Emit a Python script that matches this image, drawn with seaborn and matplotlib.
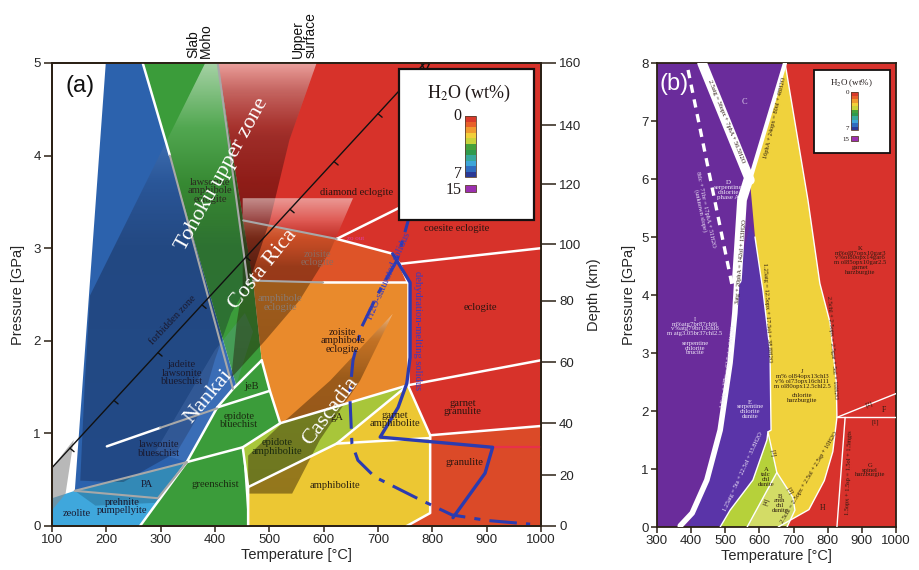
import numpy as np
import matplotlib
matplotlib.use("Agg")
import matplotlib.pyplot as plt
from matplotlib.patches import Polygon, Rectangle
import seaborn as sns

sns.set_theme(style="ticks")
plt.rcParams["font.family"] = ["Liberation Sans", "DejaVu Sans"]
plt.rcParams["mathtext.fontset"] = "stix"
SERIF = ["Liberation Serif", "DejaVu Serif"]

# ---------------- panel (a): metamorphic facies of subducting crust ----------------
zeolite_zone = [(100, 0), (262, 0), (348, 0.69), (142, 0.38), (100, 0.30)]
blueschist = [(142, 0.38), (199, 5), (267, 5), (439, 1.52), (404, 1.28), (348, 0.69)]
green_facies = [(267, 5), (405, 5), (470, 2.65), (486, 1.79), (501, 1.46), (520, 1.11),
                (451, 0.85), (461, 0), (262, 0), (348, 0.69), (404, 1.28), (439, 1.52)]
eclogite_field = [(405, 5), (1000, 5), (1000, 0), (753, 0), (796, 0.14), (796, 0.98),
                  (755, 1.52), (755, 2.63), (470, 2.65)]
zoisite_eclogite = [(452, 3.30), (624, 3.10), (727, 2.94), (740, 2.83), (755, 2.63), (470, 2.65)]
zo_amph_eclogite = [(520, 1.11), (501, 1.46), (486, 1.79), (470, 2.65), (755, 2.63), (755, 1.52)]
epidote_amphibolite = [(451, 0.85), (520, 1.11), (755, 1.52), (624, 0.89), (461, 0.42)]
amphibolite = [(461, 0), (461, 0.42), (624, 0.89), (755, 1.52), (796, 0.98), (796, 0.14), (753, 0)]
granulite = [(796, 0.98), (1000, 1.08), (1000, 0), (753, 0), (796, 0.14)]
gray_corner = [(100, 0.17), (100, 0.63), (140, 0.93), (125, 0.35)]
pa_zone = [(142, 0.38), (348, 0.69), (320, 0.45), (290, 0.25), (180, 0.22)]

facies_a = [
    (eclogite_field, "#d7322a"), (zeolite_zone, "#3fa7dc"), (blueschist, "#2c62ad"),
    (green_facies, "#3b9c3a"), (zoisite_eclogite, "#de5428"), (zo_amph_eclogite, "#e98a2c"),
    (epidote_amphibolite, "#a8c63a"), (amphibolite, "#ecc733"), (granulite, "#db4a28"),
]

white_lines_a = [
    [(262, 0), (348, 0.69), (404, 1.28), (433, 1.48), (486, 1.79)],
    [(267, 5), (317, 4.0)],
    [(348, 0.69), (451, 0.85), (520, 1.11), (755, 1.52)],
    [(451, 0.85), (461, 0.42), (461, 0)],
    [(404, 1.28), (501, 1.46)],
    [(486, 1.79), (501, 1.46), (520, 1.11)],
    [(461, 0.42), (624, 0.89), (755, 1.52)],
    [(624, 0.89), (796, 0.95)],
    [(755, 1.52), (796, 0.98), (796, 0.14), (753, 0)],
    [(755, 1.52), (1000, 1.79)],
    [(796, 0.98), (1000, 1.08)],
    [(740, 2.83), (1000, 3.0)],
    [(624, 3.10), (727, 2.94), (740, 2.83), (755, 2.63)],
    [(624, 3.10), (737, 3.43), (800, 3.62)],
    [(599, 2.63), (755, 2.63), (755, 1.52)],
    [(201, 0.86), (299, 1.06)],
]
gray_lines_a = [
    [(452, 3.30), (624, 3.10)],
    [(470, 2.65), (599, 2.63)],
    [(405, 5), (461, 2.6)],
    [(317, 4.0), (433, 1.48)],
    [(142, 0.38), (348, 0.69)],
    [(142, 0.38), (295, 0.30), (348, 0.69)],
    [(299, 1.06), (404, 1.27)],
]

# slab paths drawn as translucent bands (vertices, gradient stops in P)
tohoku_slab = [(382, 5), (587, 5), (537, 4.17), (501, 3.3), (461, 2.6), (430, 2.3), (400, 1.8),
               (370, 1.2), (330, 0.8), (230, 0.47), (152, 0.49), (160, 1.5), (170, 2.49)]
tohoku_stops = [(0, (0.05, 0.05, 0.15, 0.28)), (3.0, (0.05, 0.05, 0.12, 0.30)),
                (3.7, (0.1, 0.0, 0.0, 0.12)), (4.3, (1, 1, 1, 0.12)), (5, (1, 1, 1, 0.55))]
tohoku_surface = [(405, 5), (587, 5), (537, 4.17), (501, 3.3), (461, 2.6)]
tohoku_surface_stops = [(2.6, (0.2, 0.0, 0.0, 0.35)), (4.2, (0.2, 0.0, 0.0, 0.35)),
                        (4.7, (0.2, 0.0, 0.0, 0.18)), (5, (0.2, 0.0, 0.0, 0.0))]
costa_rica = [(451, 3.54), (654, 3.54), (612, 2.97), (556, 2.44), (492, 2.0), (430, 1.6),
              (440, 2.2), (451, 2.6)]
costa_stops = [(1.6, (0.12, 0.05, 0.0, 0.42)), (2.8, (0.12, 0.05, 0.0, 0.36)),
               (3.1, (0.3, 0.15, 0.1, 0.15)), (3.3, (1, 1, 1, 0.2)), (3.54, (1, 1, 1, 0.5))]
cascadia = [(727, 2.29), (667, 1.57), (593, 0.93), (542, 0.35), (461, 0.35), (461, 0.76),
            (520, 1.09), (612, 1.57)]
cascadia_stops = [(0.35, (0.15, 0.08, 0.0, 0.45)), (1.6, (0.15, 0.08, 0.0, 0.40)),
                  (2.0, (0.3, 0.15, 0.05, 0.25)), (2.29, (1, 1, 1, 0.45))]
nankai = [(348, 0.69), (404, 1.28), (439, 1.52), (470, 2.1), (455, 2.3), (400, 1.9),
          (330, 1.2), (290, 0.8)]

# forbidden-zone boundary and its tick positions
forbidden_T = [100, 786]
forbidden_P = [0.63, 5.0]
forbidden_ticks_T = [133, 214, 295, 376, 457, 538, 619, 700]

# solidi
wet_solidus_T = [799, 759, 735, 700, 670, 654, 648, 652, 663, 694, 772, 836, 900, 980]
wet_solidus_P = [3.98, 3.37, 2.87, 2.51, 2.15, 1.79, 1.43, 0.89, 0.71, 0.53, 0.30, 0.12, 0.06, 0.02]
dehydration_T = [727, 759, 759, 753, 737, 704, 911, 897, 838]
dehydration_P = [2.94, 2.63, 1.82, 1.54, 1.28, 0.96, 0.85, 0.57, 0.09]

# depth scale (km) and the pressure at which each depth sits
depth_km = [0, 20, 40, 60, 80, 100, 120, 140, 160]
depth_gpa = [0, 0.547, 1.11, 1.77, 2.43, 3.04, 3.69, 4.33, 5.0]

water_colors = ["#d93a2b", "#e8602a", "#f09a30", "#f2cf3a", "#c9d33a", "#45a03a",
                "#2f9a4c", "#37a79c", "#3ea5d8", "#2f6cbf", "#2b3a96"]
water_max_color = "#9b2fb0"

labels_a = [
    ("lawsonite\namphibole\neclogite", 391, 3.62, "#2a2a20"),
    ("diamond eclogite", 660, 3.60, "#2a1510"),
    ("coesite eclogite", 845, 3.21, "#2a1510"),
    ("zoisite\neclogite", 589, 2.89, "#8a6a60"),
    ("amphibole\neclogite", 520, 2.41, "#8a7a70"),
    ("zoisite\namphibole\neclogite", 635, 2.00, "#2a1510"),
    ("eclogite", 888, 2.36, "#2a1510"),
    ("jadeite\nlawsonite\nblueschist", 339, 1.65, "#1a1a30"),
    ("jeB", 468, 1.51, "#1a2a10"),
    ("epidote\nbluechist", 444, 1.14, "#1a2a10"),
    ("lawsonite\nblueschist", 297, 0.83, "#1a1a30"),
    ("epidote\namphibolite", 514, 0.85, "#1a2a10"),
    ("PA", 275, 0.45, "#1a1a30"),
    ("greenschist", 400, 0.45, "#1a2a10"),
    ("prehnite\npumpellyite", 229, 0.21, "#1a1a30"),
    ("zeolite", 146, 0.14, "#1a1a30"),
    ("amphibolite", 621, 0.44, "#2a2010"),
    ("garnet\namphibolite", 731, 1.15, "#2a2010"),
    ("garnet\ngranulite", 856, 1.28, "#2a1510"),
    ("granulite", 860, 0.69, "#2a1510"),
    ("gA", 624, 1.17, "#2a2010"),
]
slab_names = [
    ("Tohoku upper zone", 413, 3.80, 61),
    ("Costa Rica", 488, 2.77, 51),
    ("Nankai", 389, 1.40, 50),
    ("Cascadia", 612, 1.24, 53),
]

# ---------------- panel (b): hydrated peridotite ----------------
purple_field = [(300, 0), (1000, 0), (1000, 8), (300, 8)]
field_E = [(395, 0), (485, 0), (514, 0.29), (581, 0.81), (625, 1.64), (634, 1.67), (631, 3.05),
           (610, 4.09), (587, 5.0), (572, 5.2), (534, 4.26), (514, 2.83), (485, 1.67),
           (446, 0.81), (403, 0.24)]
field_J = [(572, 5.98), (675, 8.0), (742, 5.64), (777, 4.2), (807, 3.52), (825, 2.5),
           (827, 1.89), (815, 1.3), (790, 0.8), (745, 0.3), (655, 0), (681, 0), (704, 0.29),
           (698, 0.51), (651, 0.94), (625, 1.64), (634, 1.67), (631, 3.05), (610, 4.09),
           (587, 5.0)]
field_A = [(485, 0), (514, 0.29), (581, 0.81), (622, 1.5), (625, 1.64), (651, 0.94), (564, 0)]
field_B = [(564, 0), (651, 0.94), (698, 0.51), (704, 0.29), (681, 0)]
field_red = [(675, 8), (1000, 8), (1000, 0), (655, 0), (745, 0.3), (790, 0.8), (815, 1.3),
             (827, 1.89), (825, 2.5), (807, 3.52), (777, 4.2), (742, 5.64)]
facies_b = [(purple_field, "#6a2c9b"), (field_E, "#5a34a8"), (field_red, "#d8322c"),
            (field_J, "#f0d23c"), (field_A, "#b6d13a"), (field_B, "#d3dc66")]

band1_lower = [(368, 0.02), (403, 0.24), (446, 0.81), (485, 1.67), (514, 2.83), (528, 3.69), (534, 4.26)]
band1_upper = [(534, 4.26), (549, 5.64), (567, 5.98)]
band2 = [(432, 8.0), (572, 5.98)]
band3 = [(572, 5.98), (675, 8.0)]
dashed_b = [(391, 7.88), (523, 4.08)]
thin_white_b = [
    [(675, 8), (742, 5.64), (777, 4.2), (807, 3.52), (825, 2.5), (827, 1.89), (815, 1.3),
     (790, 0.8), (745, 0.3), (655, 0)],
    [(485, 0), (514, 0.29), (581, 0.81), (622, 1.5), (625, 1.64), (651, 0.94), (698, 0.51),
     (704, 0.29), (681, 0)],
    [(564, 0), (651, 0.94)],
    [(625, 1.64), (634, 1.67), (631, 3.05), (610, 4.09), (587, 5.0)],
    [(827, 1.89), (1000, 2.3)],
    [(827, 1.89), (1000, 1.89)],
    [(851, 1.89), (827, 0)],
]

labels_b = [
    ("C", 555, 7.32, 0, "#d8c8e8", 6),
    ("D\nserpentine\nchlorite\nphase A", 508, 5.81, 0, "#f0e8f8", 5),
    ("2.5atg = 36opx + 7phA + 56.5H2O", 502, 6.99, -67.8, "#2a1a10", 4.6),
    ("16phA + 24opx = 80ol + 48H2O", 646, 7.06, 77, "#2a1a10", 4.6),
    ("3atg + 20phA = 142ol + 153H2O", 546, 4.57, 85, "#2a1a10", 4.6),
    ("8tlc + 71br = 17phA + 51H2O\n(unknown slope)", 435, 5.47, -78, "#f0e8f8", 4.6),
    ("1.25atg = 12.5opx + 17.5ol + 38.8H2O", 622, 3.69, -87, "#2a1a10", 4.6),
    ("1.8atg + 37br = 62.5ol + 94H2O", 508, 2.77, 82, "#f0e8f8", 4.6),
    ("1.25atg = 5ta + 22.5ol + 33.8H2O", 552, 0.96, 65, "#f0e8f8", 4.6),
    ("I\nm%atg7br87chl6\nv%atg79br13chl8\nm atg3.05br37chl2.5\n\nserpentine\nchlorite\nbrucite",
     411, 3.29, 0, "#f0e8f8", 4.8),
    ("E\nserpentine\nchlorite\ndunite", 572, 2.03, 0, "#f0e8f8", 4.8),
    ("J\nm% ol84opx13chl3\nv% ol73opx16chl11\nm ol80opx12.5chl2.5\n\nchlorite\nharzburgite",
     725, 2.43, 0, "#2a1a10", 4.8),
    ("K\nm%ol87opx10gar3\nv%ol80opx14gar6\nm ol85opx10gar2.5\ngarnet\nharzburgite",
     895, 4.60, 0, "#2a1a10", 4.8),
    ("2.5chl + 2.5opx = 2.5gar + 5ol + 10H2O", 813, 3.10, -86, "#2a1a10", 4.6),
    ("[2]", 921, 2.12, 20, "#2a1a10", 4.6),
    ("F", 965, 2.01, 0, "#2a1a10", 5.5),
    ("[1]", 939, 1.80, 0, "#2a1a10", 4.6),
    ("G\nspinel\nharzburgite", 924, 0.98, 0, "#2a1a10", 4.8),
    ("H", 786, 0.32, 0, "#2a1a10", 5.5),
    ("1.5opx + 1.5sp = 1.5ol + 1.5mgts", 862, 0.93, 88, "#2a1a10", 4.6),
    ("2.5chl = 2.5opx + 2.5ol + 2.5sp + 10H2O", 745, 0.86, 59, "#2a1a10", 4.6),
    ("[3]", 640, 1.27, -80, "#2a1a10", 4.5),
    ("[3]", 690, 0.63, -60, "#2a1a10", 4.5),
    ("[4]", 619, 0.43, 70, "#2a1a10", 4.5),
    ("A\ntalc\nchl\ndunite", 619, 0.86, 0, "#2a1a10", 4.8),
    ("B\nanth\nchl\ndunite", 660, 0.41, 0, "#2a1a10", 4.8),
]

SPINE = "#2b2015"


def draw_poly(ax, verts, color, z=1, **kw):
    ax.add_patch(Polygon(verts, closed=True, facecolor=color, edgecolor="none", zorder=z, **kw))


def gradient_poly(ax, verts, stops, z):
    v = np.asarray(verts, dtype=float)
    x0, x1 = v[:, 0].min(), v[:, 0].max()
    y0, y1 = v[:, 1].min(), v[:, 1].max()
    ys = np.linspace(y0, y1, 300)
    ps = [s[0] for s in stops]
    cols = np.array([s[1] for s in stops], dtype=float)
    img = np.zeros((300, 2, 4))
    for k in range(4):
        img[:, :, k] = np.interp(ys, ps, cols[:, k])[:, None]
    im = ax.imshow(img, extent=(x0, x1, y0, y1), origin="lower", aspect="auto",
                   zorder=z, interpolation="bilinear")
    clip = Polygon(v, closed=True, facecolor="none", edgecolor="none", transform=ax.transData)
    ax.add_patch(clip)
    im.set_clip_path(clip)


def polyline(ax, pts, **kw):
    p = np.asarray(pts, dtype=float)
    ax.plot(p[:, 0], p[:, 1], solid_capstyle="round", **kw)


def water_legend(ax, box, title_xy, bar, title_size, num_size, lw):
    ax.add_patch(Rectangle((box[0], box[1]), box[2] - box[0], box[3] - box[1],
                           transform=ax.transAxes, facecolor="white", edgecolor="#151010",
                           lw=lw, zorder=20))
    ax.text(title_xy[0], title_xy[1], "H$_2$O (wt%)", transform=ax.transAxes, ha="center",
            va="center", fontsize=title_size, family=SERIF, color="#201818", zorder=21)
    bx0, bx1, by_bot, by_top, sw_bot, sw_top = bar
    n = len(water_colors)
    h = (by_top - by_bot) / n
    for i, c in enumerate(water_colors):
        ax.add_patch(Rectangle((bx0, by_top - (i + 1) * h), bx1 - bx0, h, transform=ax.transAxes,
                               facecolor=c, edgecolor="none", zorder=21))
    ax.add_patch(Rectangle((bx0, by_bot), bx1 - bx0, by_top - by_bot, transform=ax.transAxes,
                           facecolor="none", edgecolor="#5a4030", lw=0.6, zorder=22))
    ax.add_patch(Rectangle((bx0, sw_bot), bx1 - bx0, sw_top - sw_bot, transform=ax.transAxes,
                           facecolor=water_max_color, edgecolor="#5a4030", lw=0.6, zorder=22))
    gap = (bx1 - bx0) * 0.3
    ax.text(bx0 - gap, by_top, "0", transform=ax.transAxes, ha="right", va="center",
            fontsize=num_size, family=SERIF, color="#201818", zorder=22)
    ax.text(bx0 - gap, by_bot + h * 0.6, "7", transform=ax.transAxes, ha="right", va="center",
            fontsize=num_size, family=SERIF, color="#201818", zorder=22)
    ax.text(bx0 - gap, (sw_bot + sw_top) / 2 - h * 0.3, "15", transform=ax.transAxes,
            ha="right", va="center", fontsize=num_size, family=SERIF, color="#201818", zorder=22)


fig = plt.figure(figsize=(9.19, 5.70), dpi=100)
ax = fig.add_axes([52 / 919, 44 / 570, 489 / 919, 463 / 570])
axb = fig.add_axes([657 / 919, 43 / 570, 239 / 919, 464 / 570])

# ---- panel (a)
for verts, col in facies_a:
    draw_poly(ax, verts, col, z=1)
draw_poly(ax, gray_corner, "#8a8a8a", z=2, alpha=0.6)
draw_poly(ax, pa_zone, "#0a2030", z=2, alpha=0.22)
gradient_poly(ax, tohoku_slab, tohoku_stops, 3)
gradient_poly(ax, tohoku_surface, tohoku_surface_stops, 3.05)
draw_poly(ax, nankai, "#7aa0e0", z=3.08, alpha=0.18)
gradient_poly(ax, costa_rica, costa_stops, 3.2)
gradient_poly(ax, cascadia, cascadia_stops, 3.3)

for pts in white_lines_a:
    polyline(ax, pts, color="white", lw=1.8, zorder=4)
for pts in gray_lines_a:
    polyline(ax, pts, color="#a8a8a8", lw=1.5, zorder=4)

# forbidden zone line with teeth
sns.lineplot(x=forbidden_T, y=forbidden_P, ax=ax, color="#111111", lw=1.0, zorder=6,
             sort=False, estimator=None)
fx0, fy0 = ax.transData.transform((forbidden_T[0], forbidden_P[0]))
fx1, fy1 = ax.transData.transform((forbidden_T[1], forbidden_P[1]))
dvec = np.array([fx1 - fx0, fy1 - fy0])
dvec /= np.hypot(*dvec)
normal = np.array([dvec[1], -dvec[0]]) * 5
inv = ax.transData.inverted()
for tT in forbidden_ticks_T:
    tP = np.interp(tT, forbidden_T, forbidden_P)
    px, py = ax.transData.transform((tT, tP))
    a2 = inv.transform((px + normal[0], py + normal[1]))
    ax.plot([tT, a2[0]], [tP, a2[1]], color="#111111", lw=1.0, zorder=6)
ax.plot([forbidden_T[1]], [4.96], marker="v", ms=6, mfc="none", mec="#111111", mew=1.0,
        zorder=6, clip_on=False)

sns.lineplot(x=wet_solidus_T, y=wet_solidus_P, ax=ax, color="#2b3bb0", lw=2.2, zorder=7,
             sort=False, estimator=None, linestyle=(0, (9, 3, 2, 3)))
sns.lineplot(x=dehydration_T, y=dehydration_P, ax=ax, color="#2b3bb0", lw=2.4, zorder=7,
             sort=False, estimator=None)
ax.plot([911, 1000], [0.85, 0.85], color="#e8304a", lw=1.6, zorder=6.5)

for txt, T, P, col in labels_a:
    ax.text(T, P, txt, ha="center", va="center", fontsize=7.6, family=SERIF, color=col,
            linespacing=0.95, zorder=8)
for txt, T, P, rot in slab_names:
    ax.text(T, P, txt, ha="center", va="center", rotation=rot, rotation_mode="anchor",
            fontsize=16, family=SERIF, color="white", zorder=8)
ax.text(323, 2.22, "forbidden zone", ha="center", va="center", rotation=47, rotation_mode="anchor",
        fontsize=7.6, family=SERIF, color="#1a1a30", zorder=8)
ax.text(720, 2.70, "H2O-saturated solidus", ha="center", va="center", rotation=66,
        rotation_mode="anchor", fontsize=7.6, family=SERIF, color="#3a3ac0", zorder=8)
ax.text(773, 2.11, "dehydration-melting solidus", ha="center", va="center", rotation=-90,
        rotation_mode="anchor", fontsize=7.6, family=SERIF, color="#3a3ac0", zorder=8)
ax.text(658, 3.10, "zo out", ha="center", va="center", fontsize=5, family=SERIF,
        color="#e040a0", zorder=8)
ax.text(0.028, 0.95, "(a)", transform=ax.transAxes, ha="left", va="center", fontsize=17,
        color="#111111", zorder=9)
ax.text(372, 5.05, "Slab\nMoho", ha="center", va="bottom", rotation=90, ma="left",
        fontsize=10, color="#111111", linespacing=0.9, clip_on=False)
ax.text(565, 5.05, "Upper\nsurface", ha="center", va="bottom", rotation=90, ma="left",
        fontsize=10, color="#111111", linespacing=0.9, clip_on=False)

water_legend(ax, (0.710, 0.661, 0.986, 0.987), (0.853, 0.935),
             (0.845, 0.868, 0.753, 0.885, 0.722, 0.737), 13, 11.5, 1.6)

ax.set_xlim(100, 1000)
ax.set_ylim(0, 5)
ax.set_xticks(range(100, 1001, 100))
ax.set_yticks(range(0, 6))
ax.set_xlabel("Temperature [°C]", fontsize=10.5, labelpad=1)
ax.set_ylabel("Pressure [GPa]", fontsize=10.5, labelpad=6)
ax.tick_params(axis="x", labelsize=9.5, length=4, width=1.1, color=SPINE, pad=2)
ax.tick_params(axis="y", labelsize=9.5, length=6, width=1.1, color=SPINE, pad=2)
for s in ax.spines.values():
    s.set_color(SPINE)
    s.set_linewidth(1.3)

axd = ax.twinx()
axd.set_ylim(0, 5)
axd.set_yticks(depth_gpa)
axd.set_yticklabels([str(d) for d in depth_km])
axd.set_ylabel("Depth (km)", fontsize=10.5, labelpad=4)
axd.tick_params(axis="y", labelsize=9.5, length=11, width=1.1, color=SPINE, pad=2)
for s in axd.spines.values():
    s.set_color(SPINE)
    s.set_linewidth(1.3)

# ---- panel (b)
for verts, col in facies_b:
    draw_poly(axb, verts, col, z=1)
for pts in thin_white_b:
    polyline(axb, pts, color="white", lw=1.0, zorder=3)
polyline(axb, band1_lower, color="white", lw=4.0, zorder=4)
polyline(axb, band1_upper, color="white", lw=7.0, zorder=4)
polyline(axb, band2, color="white", lw=7.0, zorder=4)
polyline(axb, band3, color="white", lw=3.0, zorder=4)
d = np.asarray(dashed_b)
axb.plot(d[:, 0], d[:, 1], color="white", lw=2.4, ls=(0, (2.5, 2)), zorder=4)

for txt, T, P, rot, col, fs in labels_b:
    axb.text(T, P, txt, ha="center", va="center", rotation=rot, rotation_mode="anchor",
             fontsize=fs, family=SERIF, color=col, linespacing=0.95, zorder=8)
axb.text(0.01, 0.955, "(b)", transform=axb.transAxes, ha="left", va="center", fontsize=17,
         color="white", zorder=9)

water_legend(axb, (0.657, 0.806, 0.975, 0.985), (0.815, 0.957),
             (0.812, 0.841, 0.855, 0.937, 0.832, 0.842), 6.5, 5.0, 1.3)

axb.set_xlim(300, 1000)
axb.set_ylim(0, 8)
axb.set_xticks(range(300, 1001, 100))
axb.set_yticks(range(0, 9))
axb.set_xlabel("Temperature [°C]", fontsize=10.5, labelpad=1)
axb.set_ylabel("Pressure [GPa]", fontsize=10.5, labelpad=4)
axb.tick_params(labelsize=9.5, length=4, width=1.1, color=SPINE, pad=2)
for s in axb.spines.values():
    s.set_color(SPINE)
    s.set_linewidth(1.3)

fig.savefig("out.png", dpi=100)
